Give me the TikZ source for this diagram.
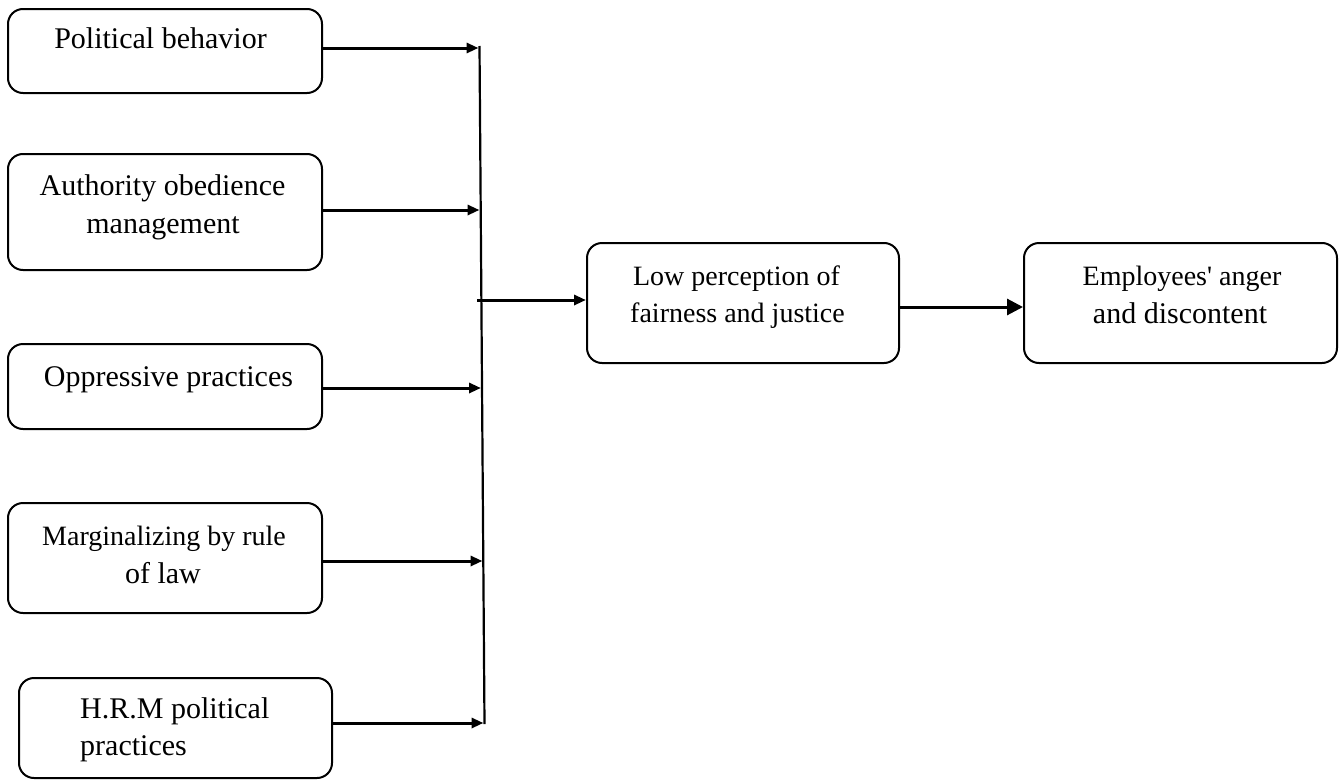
\documentclass[tikz,border=0pt]{standalone}
\usepackage{fontspec}
\setmainfont{Liberation Serif}
\usetikzlibrary{arrows.meta}
\begin{document}
\begin{tikzpicture}[x=1pt,y=-1pt,
  box/.style={draw, line width=2pt, rounded corners=15pt,
              minimum width=314pt, inner sep=0pt},
  lbl/.style={anchor=base, inner sep=0pt, font=\fontsize{30}{36}\selectfont},
  lblsm/.style={lbl, font=\fontsize{28}{34}\selectfont},
  feed/.style={line width=3pt, -{Triangle[length=12pt,width=10pt]}},
  bus/.style={line width=2.2pt},
  bigarrow/.style={line width=3pt, -{Triangle[length=16pt,width=16pt]}}]

\useasboundingbox (0,0) rectangle (1341,779);

% input factors
\node[box, minimum height=84pt]  (b1) at (165,51)    {};
\node[box, minimum height=116pt] (b2) at (165,212)   {};
\node[box, minimum height=85pt]  (b3) at (165,386.5) {};
\node[box, minimum height=110pt] (b4) at (165,558)   {};
\node[box, minimum width=313pt, minimum height=100pt] (b5) at (175.5,728) {};

% mediator and outcome
\node[box, minimum width=312pt, minimum height=120pt] (mid) at (743,303)    {};
\node[box, minimum width=313pt, minimum height=120pt] (out) at (1180.5,303) {};

% labels
\node[lbl]   (t1)  at (160.5,48) {Political behavior};
\node[lbl]   (t2a) at (162.5,195) {Authority obedience};
\node[lbl]   (t2b) at (163,233)   {management};
\node[lbl]   (t3)  at (168.5,386) {Oppressive practices};
\node[lblsm] (t4a) at (164,545)   {Marginalizing by rule};
\node[lbl]   (t4b) at (163,583)   {of law};
\node[lbl, anchor=base west] (t5a) at (80,718) {H.R.M political};
\node[lbl, anchor=base west] (t5b) at (80,755) {practices};
\node[lblsm] (m1) at (736.5,285) {Low perception of};
\node[lblsm] (m2) at (737.5,322) {fairness and justice};
\node[lblsm] (o1) at (1182,285) {Employees\textquotesingle{} anger};
\node[lbl]   (o2) at (1180,323) {and discontent};

% collecting bus
\coordinate (bt) at (479.5,46);
\coordinate (bb) at (484.5,724);
\draw[bus] (bt) -- (bb);

\coordinate (p1) at (478.5,48);
\coordinate (p2) at (479.5,210);
\coordinate (p3) at (481,388);
\coordinate (p4) at (482.5,561);
\coordinate (p5) at (483.5,723);
\coordinate (j)  at (477,300);

\draw[feed] (b1.east |- p1) -- (p1);
\draw[feed] (b2.east |- p2) -- (p2);
\draw[feed] (b3.east |- p3) -- (p3);
\draw[feed] (b4.east |- p4) -- (p4);
\draw[feed] (b5.east |- p5) -- (p5);

\draw[feed] (j) -- (mid.west |- j);
\draw[bigarrow] ([yshift=-4pt]mid.east) -- ([yshift=-4pt]out.west);

\end{tikzpicture}
\end{document}
